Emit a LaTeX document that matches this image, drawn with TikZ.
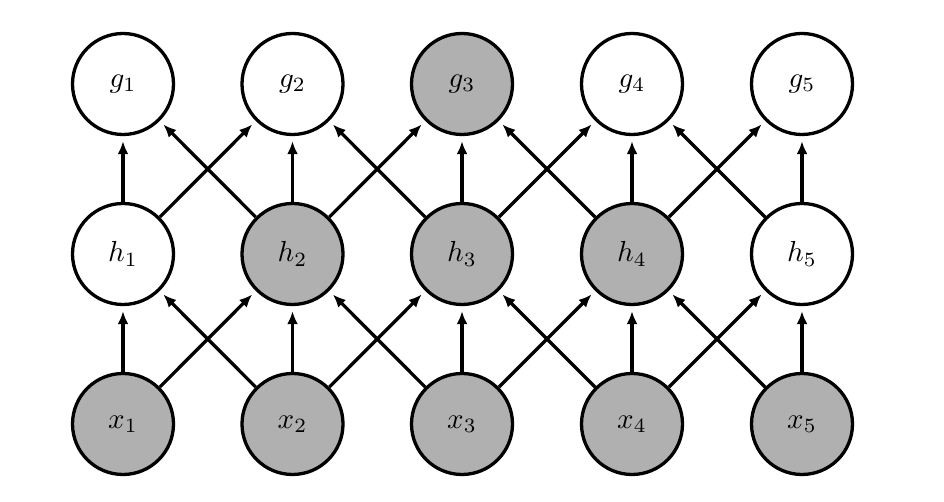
\documentclass[tikz,border=0pt]{standalone}
\usepackage{graphicx}
\usetikzlibrary{arrows.meta}
\definecolor{shade}{RGB}{176,176,176}
\newcommand\biglab[1]{\scalebox{2.9}{$#1$}}
\begin{document}
\begin{tikzpicture}[x=1pt,y=1pt,
  var/.style={circle,draw=black,line width=3.3pt,minimum size=101pt,inner sep=0pt,fill=white},
  obs/.style={var,fill=shade},
  edge/.style={line width=3.3pt,-{Latex[length=13pt,width=11pt]},shorten >=5pt}]
\useasboundingbox (0,0) rectangle (944,502);
\foreach \i/\px in {1/123,2/292.5,3/462,4/632,5/802}{
  \node[obs] (x\i) at (\px,78) {\biglab{x_{\i}}};
}
\node[var] (h1) at (123,248) {\biglab{h_1}};
\node[obs] (h2) at (292.5,248) {\biglab{h_2}};
\node[obs] (h3) at (462,248) {\biglab{h_3}};
\node[obs] (h4) at (632,248) {\biglab{h_4}};
\node[var] (h5) at (802,248) {\biglab{h_5}};
\node[var] (g1) at (123,418) {\biglab{g_1}};
\node[var] (g2) at (292.5,418) {\biglab{g_2}};
\node[obs] (g3) at (462,418) {\biglab{g_3}};
\node[var] (g4) at (632,418) {\biglab{g_4}};
\node[var] (g5) at (802,418) {\biglab{g_5}};
\foreach \i in {1,...,5}{
  \draw[edge] (x\i) -- (h\i);
  \draw[edge] (h\i) -- (g\i);
}
\foreach \i/\j in {1/2,2/3,3/4,4/5}{
  \draw[edge] (x\i) -- (h\j);
  \draw[edge] (x\j) -- (h\i);
  \draw[edge] (h\i) -- (g\j);
  \draw[edge] (h\j) -- (g\i);
}
\end{tikzpicture}
\end{document}
